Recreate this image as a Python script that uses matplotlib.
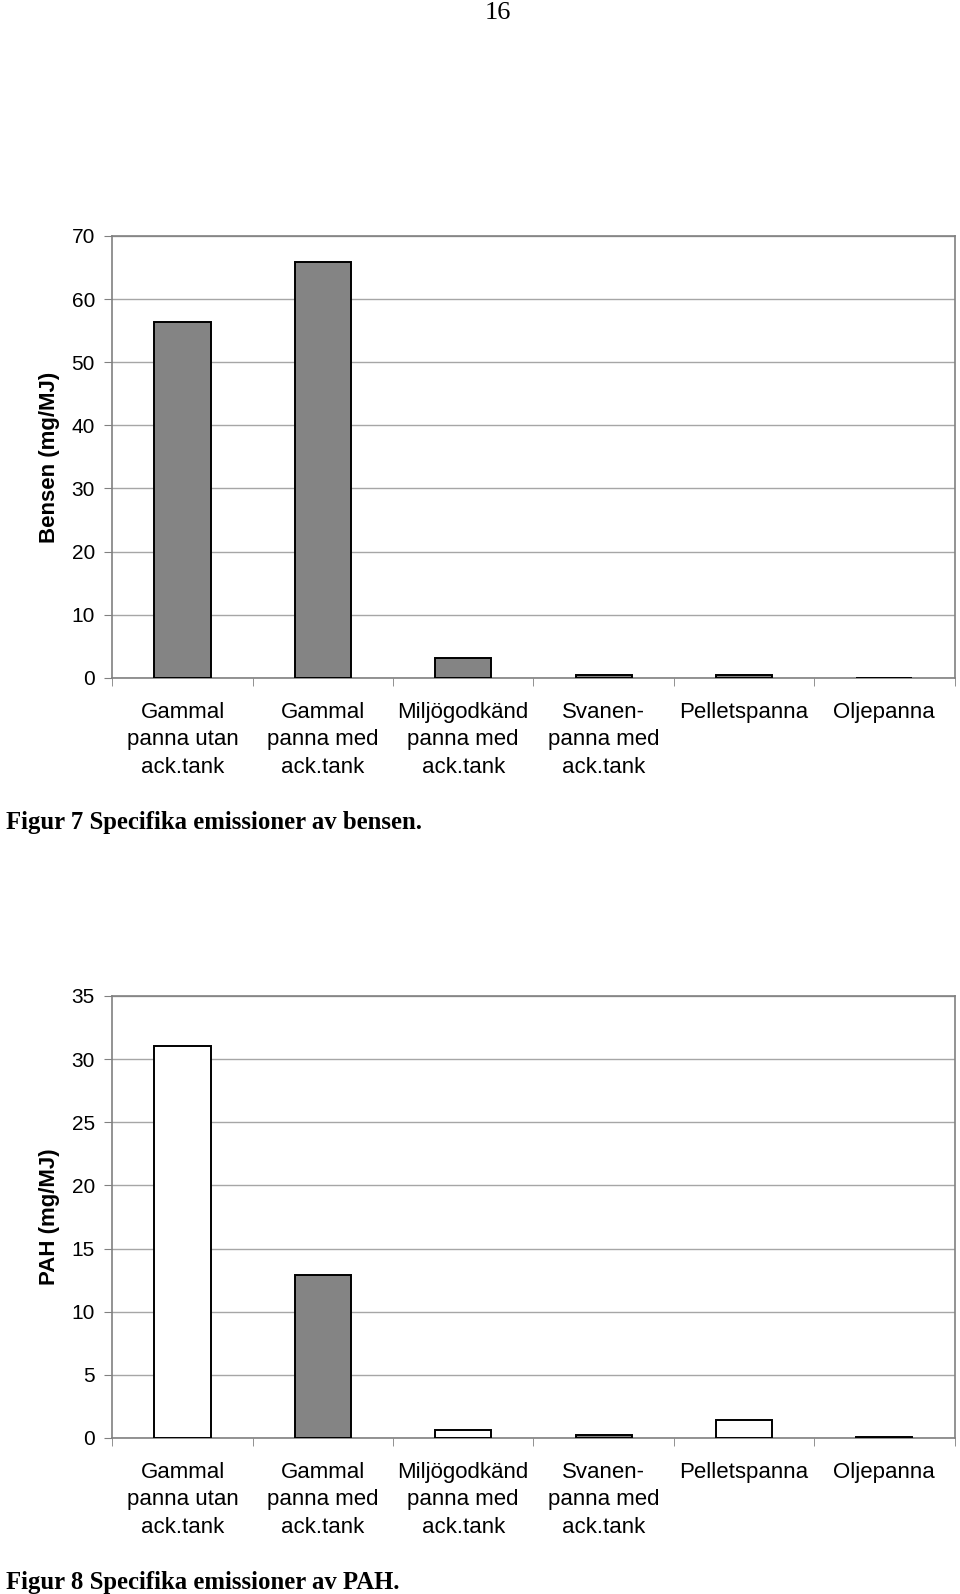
import matplotlib
matplotlib.use("Agg")
import matplotlib.pyplot as plt
import numpy as np

categories = ["Gammal\npanna utan\nack.tank", "Gammal\npanna med\nack.tank",
              "Miljögodkänd\npanna med\nack.tank", "Svanen-\npanna med\nack.tank",
              "Pelletspanna", "Oljepanna"]
bensen = [56.3, 65.9, 3.2, 0.5, 0.4, 0.05]
pah = [31.0, 12.9, 0.65, 0.2, 1.4, 0.08]
bensen_colors = ["#848484"] * 6
pah_colors = ["white", "#848484", "white", "#848484", "white", "white"]
bensen_ticks = [0, 10, 20, 30, 40, 50, 60, 70]
pah_ticks = [0, 5, 10, 15, 20, 25, 30, 35]

SANS = ["Liberation Sans", "DejaVu Sans"]
SERIF = ["Liberation Serif", "DejaVu Serif"]

fig = plt.figure(figsize=(9.6, 15.94), dpi=100)

def make_chart(rect, values, colors, ticks, ylabel):
    ax = fig.add_axes(rect)
    x = np.arange(len(categories))
    ax.bar(x, values, width=0.4, color=colors, edgecolor="black", linewidth=1.4, zorder=3)
    ax.set_xlim(-0.5, len(categories) - 0.5)
    ax.set_ylim(ticks[0], ticks[-1])
    ax.set_yticks(ticks)
    ax.set_yticklabels([str(t) for t in ticks], fontsize=15, family=SANS)
    ax.set_xticks(x)
    ax.set_xticklabels(categories, fontsize=16, family=SANS, linespacing=1.42)
    ax.set_xticks(np.arange(len(categories) + 1) - 0.5, minor=True)
    ax.tick_params(axis="x", which="major", length=0, pad=17)
    ax.tick_params(axis="x", which="minor", length=6, color="#808080", direction="out")
    ax.tick_params(axis="y", length=6, color="#808080", direction="out", pad=6.5)
    ax.yaxis.grid(True, color="#a6a6a6", linewidth=1.0, zorder=0)
    ax.set_axisbelow(True)
    for s in ax.spines.values():
        s.set_color("#808080")
        s.set_linewidth(1.2)
    ax.set_ylabel(ylabel, fontsize=16, fontweight="bold", family=SANS)
    ax.yaxis.set_label_coords(-0.062, 0.5)
    return ax

make_chart([0.117, 0.5747, 0.8773, 0.2773], bensen, bensen_colors, bensen_ticks, "Bensen (mg/MJ)")
make_chart([0.117, 0.0979, 0.8773, 0.2773], pah, pah_colors, pah_ticks, "PAH (mg/MJ)")

fig.text(498 / 960, 1 - 13 / 1594, "16", ha="center", va="center", fontsize=19, family=SERIF)
fig.text(6 / 960, 1 - 822 / 1594, "Figur 7 Specifika emissioner av bensen.", ha="left", va="center",
         fontsize=17.8, fontweight="bold", family=SERIF)
fig.text(6 / 960, 1 - 1582 / 1594, "Figur 8 Specifika emissioner av PAH.", ha="left", va="center",
         fontsize=17.8, fontweight="bold", family=SERIF)

fig.savefig("out.png", dpi=100, facecolor="white")
